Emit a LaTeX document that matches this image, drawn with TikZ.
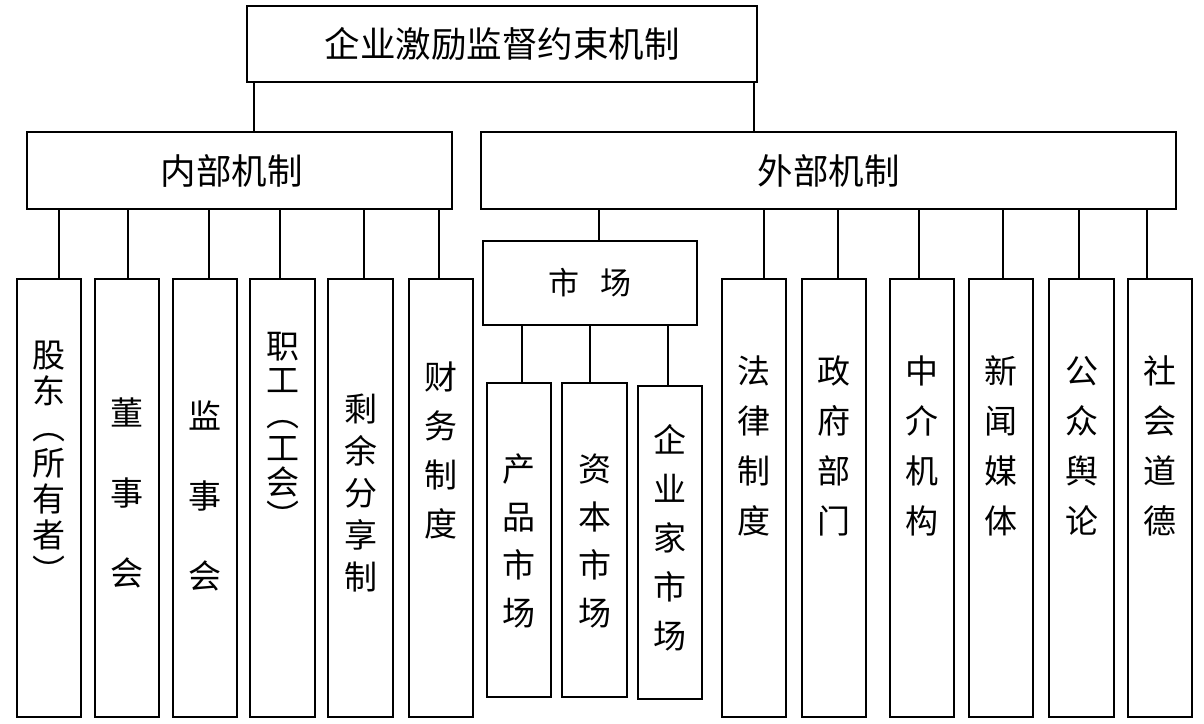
\documentclass[tikz,border=0pt]{standalone}
\usepackage{fontspec}
\newfontfamily\cjk{Noto Sans CJK SC}
\begin{document}
\begin{tikzpicture}[x=1pt,y=-1pt,
  box/.style={draw=black,line width=2.6pt,inner sep=0pt,fill=white},
  conn/.style={draw=black,line width=2.6pt},
  htext/.style={font=\cjk\fontsize{35.5}{38}\selectfont},
  vtext/.style={align=center,inner sep=0pt,font=\cjk\fontsize{33}{#1}\selectfont}]
\useasboundingbox[fill=white] (0,0) rectangle (1204,723);
% top level
\node[box,htext,minimum width=510pt,minimum height=76pt] (top) at (502,44) {企业激励监督约束机制};
\node[box,htext,minimum width=425pt,minimum height=77pt] (in) at (239.5,170.5) {\hspace*{-16pt}内部机制};
\node[box,htext,minimum width=695pt,minimum height=77pt] (ex) at (828.5,170.5) {外部机制};
\draw[conn] (top.south -| 254,0) -- (in.north -| 254,0);
\draw[conn] (top.south -| 754,0) -- (ex.north -| 754,0);
% internal columns
\node[box,minimum width=64pt,minimum height=438pt] (gd) at (49,498) {};
\node[box,minimum width=64pt,minimum height=438pt] (ds) at (127,498) {};
\node[box,minimum width=64pt,minimum height=438pt] (js) at (205,498) {};
\node[box,minimum width=65pt,minimum height=438pt] (zg) at (282.5,498) {};
\node[box,minimum width=65pt,minimum height=438pt] (sy) at (360.5,498) {};
\node[box,minimum width=64pt,minimum height=438pt] (cw) at (441,498) {};
\node[vtext=36] (tgd) at (49,462) {股\\东\\︵\\所\\有\\者\\︶};
\node[vtext=80] (tds) at (127,493) {董\\事\\会};
\node[vtext=80] (tjs) at (205,496) {监\\事\\会};
\node[vtext=34] (tzg) at (282.5,430) {职\\工\\︵\\工\\会\\︶};
\node[vtext=42] (tsy) at (360.5,493) {剩\\余\\分\\享\\制};
\node[vtext=49] (tcw) at (441,450) {财\\务\\制\\度};
\draw[conn] (in.south -| 59,0) -- (gd.north -| 59,0);
\draw[conn] (in.south -| 128,0) -- (ds.north -| 128,0);
\draw[conn] (in.south -| 209,0) -- (js.north -| 209,0);
\draw[conn] (in.south -| 280,0) -- (zg.north -| 280,0);
\draw[conn] (in.south -| 364,0) -- (sy.north -| 364,0);
\draw[conn] (in.south -| 439,0) -- (cw.north -| 439,0);
% market
\node[box,minimum width=214pt,minimum height=84pt,font=\cjk\fontsize{31}{33}\selectfont] (sc) at (590,283) {市\hspace{21pt}场};
\draw[conn] (ex.south -| 599,0) -- (sc.north -| 599,0);
\node[box,minimum width=64pt,minimum height=314pt] (cp) at (519,540) {};
\node[box,minimum width=65pt,minimum height=314pt] (zb) at (594.5,540) {};
\node[box,minimum width=64pt,minimum height=313pt] (qy) at (670,542.5) {};
\node[vtext=48] (tcp) at (519,541) {产\\品\\市\\场};
\node[vtext=48] (tzb) at (594.5,541) {资\\本\\市\\场};
\node[vtext=49] (tqy) at (670,538) {企\\业\\家\\市\\场};
\draw[conn] (sc.south -| 522,0) -- (cp.north -| 522,0);
\draw[conn] (sc.south -| 590,0) -- (zb.north -| 590,0);
\draw[conn] (sc.south -| 668,0) -- (qy.north -| 668,0);
% external columns
\node[box,minimum width=64pt,minimum height=438pt] (fl) at (754,498) {};
\node[box,minimum width=64pt,minimum height=438pt] (zf) at (834,498) {};
\node[box,minimum width=64pt,minimum height=438pt] (zj) at (922,498) {};
\node[box,minimum width=64pt,minimum height=438pt] (xw) at (1001,498) {};
\node[box,minimum width=65pt,minimum height=438pt] (gz) at (1081.5,498) {};
\node[box,minimum width=64pt,minimum height=438pt] (sh) at (1160,498) {};
\node[vtext=50] (tfl) at (754,446) {法\\律\\制\\度};
\node[vtext=50] (tzf) at (834,446) {政\\府\\部\\门};
\node[vtext=50] (tzj) at (922,446) {中\\介\\机\\构};
\node[vtext=50] (txw) at (1001,446) {新\\闻\\媒\\体};
\node[vtext=50] (tgz) at (1081.5,446) {公\\众\\舆\\论};
\node[vtext=50] (tsh) at (1160,446) {社\\会\\道\\德};
\draw[conn] (ex.south -| 764,0) -- (fl.north -| 764,0);
\draw[conn] (ex.south -| 838,0) -- (zf.north -| 838,0);
\draw[conn] (ex.south -| 919,0) -- (zj.north -| 919,0);
\draw[conn] (ex.south -| 1003,0) -- (xw.north -| 1003,0);
\draw[conn] (ex.south -| 1079,0) -- (gz.north -| 1079,0);
\draw[conn] (ex.south -| 1147,0) -- (sh.north -| 1147,0);
\end{tikzpicture}
\end{document}
